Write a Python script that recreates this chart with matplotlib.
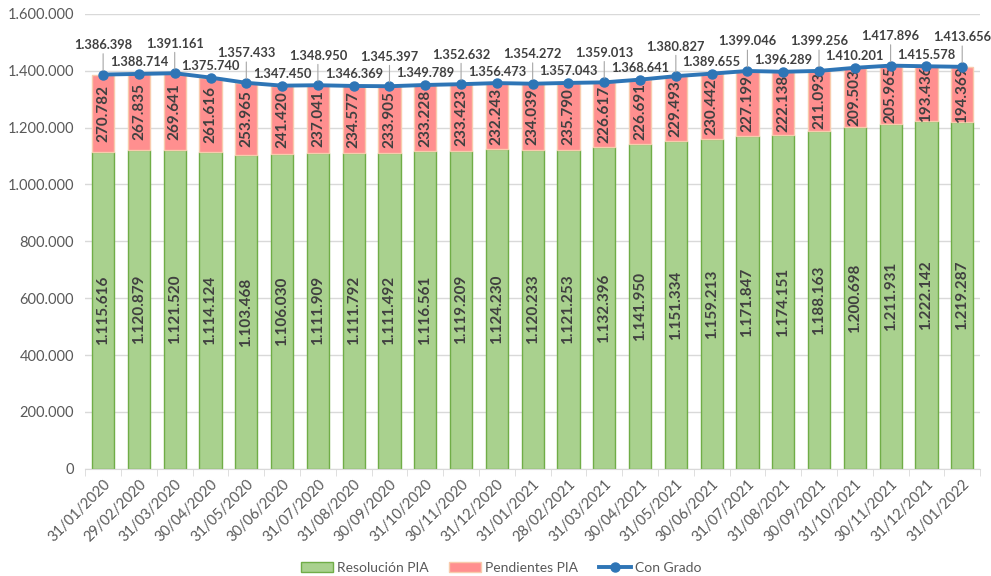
import numpy as np
import matplotlib.pyplot as plt
from matplotlib.ticker import FuncFormatter

plt.rcParams['font.family'] = ['Lato', 'DejaVu Sans']

fechas = ["31/01/2020", "29/02/2020", "31/03/2020", "30/04/2020", "31/05/2020",
          "30/06/2020", "31/07/2020", "31/08/2020", "30/09/2020", "31/10/2020",
          "30/11/2020", "31/12/2020", "31/01/2021", "28/02/2021", "31/03/2021",
          "30/04/2021", "31/05/2021", "30/06/2021", "31/07/2021", "31/08/2021",
          "30/09/2021", "31/10/2021", "30/11/2021", "31/12/2021", "31/01/2022"]

resolucion = [1115616, 1120879, 1121520, 1114124, 1103468, 1106030, 1111909,
              1111792, 1111492, 1116561, 1119209, 1124230, 1120233, 1121253,
              1132396, 1141950, 1151334, 1159213, 1171847, 1174151, 1188163,
              1200698, 1211931, 1222142, 1219287]

pendientes = [270782, 267835, 269641, 261616, 253965, 241420, 237041, 234577,
              233905, 233228, 233423, 232243, 234039, 235790, 226617, 226691,
              229493, 230442, 227199, 222138, 211093, 209503, 205965, 193436,
              194369]

con_grado = [1386398, 1388714, 1391161, 1375740, 1357433, 1347450, 1348950,
             1346369, 1345397, 1349789, 1352632, 1356473, 1354272, 1357043,
             1359013, 1368641, 1380827, 1389655, 1399046, 1396289, 1399256,
             1410201, 1417896, 1415578, 1413656]


def miles(v):
    return f"{int(v):,}".replace(",", ".")


texto = '#404040'
x = np.arange(len(fechas))

fig = plt.figure(figsize=(9.91, 5.76), dpi=100)
ax = fig.add_axes([0.086, 0.186, 0.903, 0.790])

b1 = ax.bar(x, resolucion, width=0.62, color='#A9D18E', edgecolor='#70AD47',
            linewidth=1, label='Resolución PIA', zorder=2)
b2 = ax.bar(x, pendientes, width=0.62, bottom=resolucion, color='#FF8F8F',
            edgecolor='#F8CBAD', linewidth=1, label='Pendientes PIA', zorder=2)
l1, = ax.plot(x, con_grado, color='#2E75B6', linewidth=2.8, marker='o',
              markersize=6.5, label='Con Grado', zorder=4)

# etiquetas dentro de las barras
for i in range(len(x)):
    ax.text(x[i], resolucion[i] / 2, miles(resolucion[i]), rotation=90,
            ha='center', va='center', fontsize=11, fontweight='bold',
            color=texto, zorder=3)
    ax.text(x[i], resolucion[i] + pendientes[i] / 2, miles(pendientes[i]),
            rotation=90, ha='center', va='center', fontsize=11,
            fontweight='bold', color=texto, zorder=3)

# etiquetas de la linea, alternando alto / bajo
for i in range(len(x)):
    if i % 2 == 0:
        ax.annotate(miles(con_grado[i]), (x[i], con_grado[i]),
                    xytext=(0, 17), textcoords='offset points',
                    ha='center', va='bottom', fontsize=9.3, fontweight='bold',
                    color=texto, zorder=5,
                    arrowprops=dict(arrowstyle='-', color='#A6A6A6', lw=0.8,
                                    shrinkA=0, shrinkB=3))
    else:
        ax.annotate(miles(con_grado[i]), (x[i], con_grado[i]),
                    xytext=(0, 4), textcoords='offset points',
                    ha='center', va='bottom', fontsize=9.3, fontweight='bold',
                    color=texto, zorder=5)

ax.set_ylim(0, 1600000)
ax.set_yticks(np.arange(0, 1600001, 200000))
ax.yaxis.set_major_formatter(FuncFormatter(lambda v, p: miles(v)))
ax.set_xlim(-0.5, len(x) - 0.5)
ax.set_xticks(x)
ax.set_xticklabels(fechas, rotation=45, ha='right', rotation_mode='anchor')
ax.tick_params(axis='x', labelsize=10.5, colors='#595959', length=0, pad=6)
ax.tick_params(axis='y', labelsize=10.5, colors='#595959', length=0, pad=8)
ax.set_xticks(np.arange(-0.5, len(x)), minor=True)
ax.tick_params(axis='x', which='minor', length=5, color='#D9D9D9')

ax.grid(axis='y', color='#D9D9D9', linewidth=1, zorder=0)
ax.set_axisbelow(True)
for s in ['top', 'right', 'left']:
    ax.spines[s].set_visible(False)
ax.spines['bottom'].set_color('#D9D9D9')

ax.legend([b1, b2, l1], ['Resolución PIA', 'Pendientes PIA', 'Con Grado'],
          loc='lower center', bbox_to_anchor=(0.465, -0.258), ncol=3,
          frameon=False, fontsize=10, labelcolor='#595959',
          handlelength=2.3, handletextpad=0.3, columnspacing=1.5)

fig.savefig('out.png', dpi=100)
